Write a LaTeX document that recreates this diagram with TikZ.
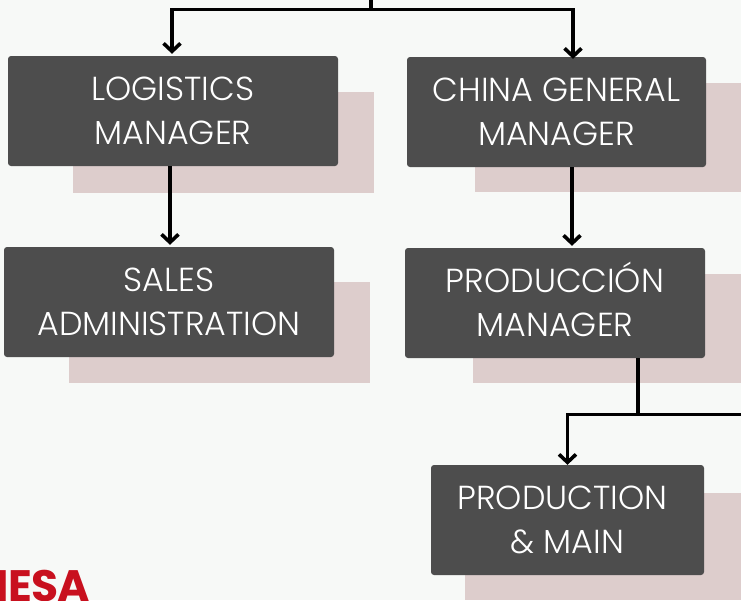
\documentclass[tikz,border=0pt]{standalone}
\usepackage{fontspec}
\setmainfont{Poppins}[UprightFont=* Light]
\newfontfamily\logofont{Poppins}[UprightFont=* Bold, LetterSpace=-2]
\usetikzlibrary{arrows.meta}
\definecolor{paper}{HTML}{F7F9F7}
\definecolor{boxgrey}{HTML}{4D4D4D}
\definecolor{backpink}{HTML}{DDCDCC}
\definecolor{logored}{HTML}{C8101E}
\tikzset{
    rolebox/.style={fill=boxgrey, text=white, rounded corners=3pt, minimum height=110pt, inner sep=0pt,
        align=center, font=\fontsize{33.3}{44}\selectfont},
    backbox/.style={fill=backpink},
    link/.style={line width=3.6pt},
    linkto/.style={link, ->, >={Straight Barb[length=8pt, width=17pt, line width=3.6pt]}}
}
\begin{document}
\begin{tikzpicture}[x=1pt, y=-1pt]

    % the frame
    \path[clip] (0, 0) rectangle (741, 600);
    \fill[paper] (0, 0) rectangle (741, 600);

    % the pink blocks
    \fill[backbox] (73, 92) rectangle (374, 193);
    \fill[backbox] (69, 282) rectangle (370, 383);
    \fill[backbox] (475, 83) rectangle (741, 192);
    \fill[backbox] (473, 274) rectangle (741, 383);
    \fill[backbox] (465, 493) rectangle (741, 600);

    % the roles
    \node[rolebox, minimum width=330pt] (logistics) at (173, 111) {LOGISTICS\\MANAGER};
    \node[rolebox, minimum width=330pt] (sales) at (169, 302) {SALES\\ADMINISTRATION};
    \node[rolebox, minimum width=299pt] (china) at (556.5, 112) {CHINA GENERAL\\MANAGER};
    \node[rolebox, minimum width=300pt] (produccion) at (555, 303) {PRODUCCI\smash{Ó}N\\MANAGER};
    \node[rolebox, minimum width=273pt] (production) at (567.5, 520) {PRODUCTION\hspace{10pt}\mbox{}\\\& MAIN};

    % the logo
    \node[anchor=base east, inner sep=0pt, text=logored, font=\logofont\fontsize{44}{44}\selectfont] (logo) at (90, 601) {MESA};

    % the free ends
    \coordinate (top) at (371, 0);
    \coordinate (topbar) at (371, 9.6);
    \coordinate (midbar) at (638, 414.6);
    \coordinate (midend) at (741, 414.6);

    % the lines
    \draw[link] (top) -- (topbar);
    \draw[linkto] (topbar) -| ([xshift=-1pt, yshift=2pt]logistics.north);
    \draw[linkto] (topbar) -| ([xshift=16.5pt, yshift=-2pt]china.north);
    \draw[linkto] ([xshift=1pt]sales.north |- logistics.south) -- ([xshift=1pt, yshift=2pt]sales.north);
    \draw[linkto] ([xshift=15.5pt]china.south) -- ([xshift=17pt, yshift=2pt]produccion.north);
    \draw[link] (midbar |- produccion.south) -- (midbar);
    \draw[link] (midend) -- (midbar);
    \draw[linkto] (midbar) -| (production.north);

\end{tikzpicture}
\end{document}
